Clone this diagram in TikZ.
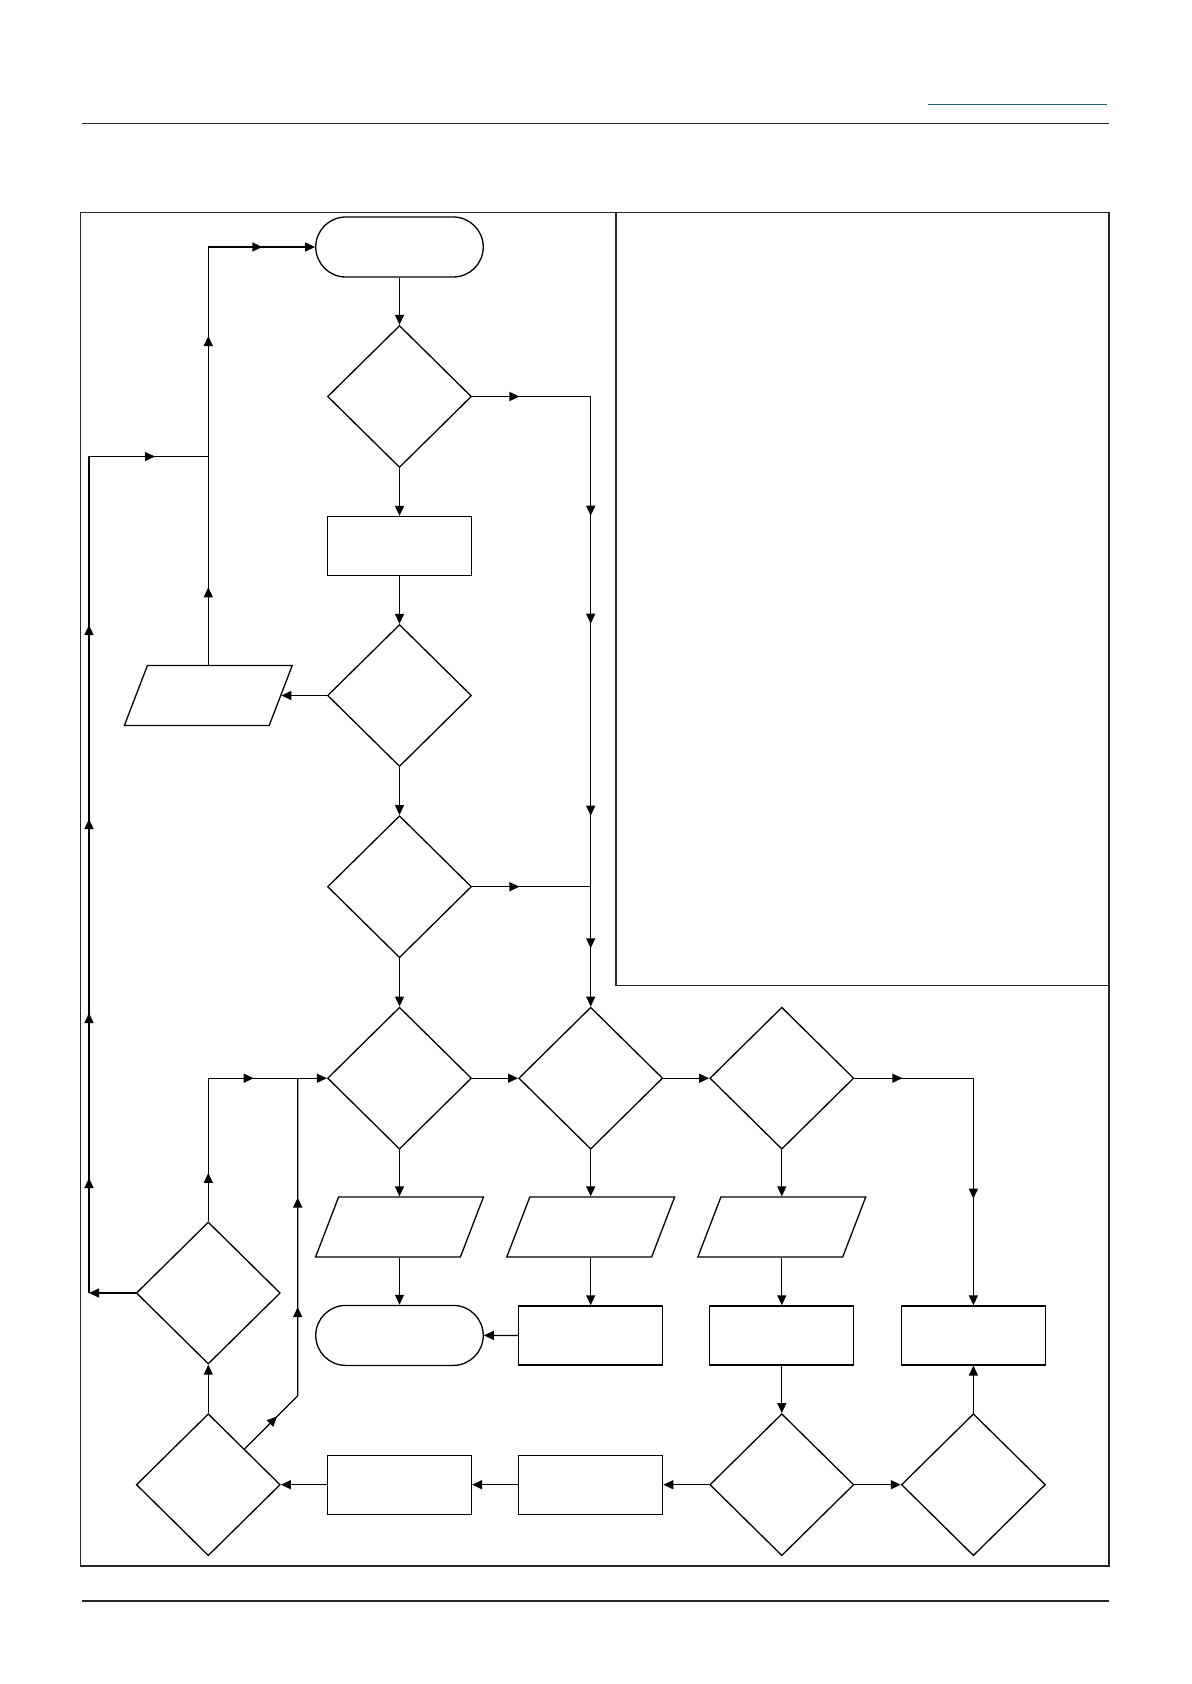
\documentclass[tikz,border=0pt]{standalone}
\usepackage{tikz}
\usetikzlibrary{shapes.geometric, shapes.misc, arrows.meta, decorations.markings}
\definecolor{headteal}{RGB}{28, 98, 112}
\definecolor{framegray}{RGB}{38, 38, 38}
\tikzset{
    chartbox/.style={draw, line width=0.65pt, inner sep=0pt},
    termbox/.style={chartbox, rounded rectangle, minimum width=83.75pt, minimum height=30pt},
    decbox/.style={chartbox, diamond, minimum width=72pt, minimum height=71pt},
    procbox/.style={chartbox, rectangle, minimum width=72pt, minimum height=29.5pt},
    iobox/.style={chartbox, trapezium, inner xsep=30.45pt, inner ysep=15pt,
        trapezium left angle=69, trapezium right angle=111},
    flowline/.style={line width=0.65pt},
    flowarrow/.style={flowline, -{Triangle[length=5pt, width=4.5pt]}},
    midarrow/.style={postaction={decorate, decoration={markings,
        mark=at position #1 with {\arrow{Triangle[length=5pt, width=4.5pt]}}}}},
    pagerule/.style={line width=0.9pt, draw=framegray},
}
\begin{document}
\begin{tikzpicture}[x=0.5pt, y=-0.5pt]
    \useasboundingbox (0,0) rectangle (1191,1684);

    % Page rules
    \draw[line width=0.75pt, draw=headteal] (928,104.5) -- (1107,104.5);
    \draw[pagerule] (82,123.5) -- (1109,123.5);
    \draw[line width=0.75pt, draw=framegray] (82,1601) -- (1109,1601);

    % Frame and side box
    \draw[pagerule] (80.5,212.6) rectangle (1109,1566);
    \draw[pagerule] (616,212.6) rectangle (1109,985.5);

    % Main column
    \node[termbox] (start) at (399.5,247) {};
    \node[decbox] (d1) at (399.5,396.5) {};
    \node[procbox] (proc1) at (399.5,546) {};
    \node[decbox] (d2) at (399.5,695.5) {};
    \node[decbox] (d3) at (399.5,886.7) {};
    \node[iobox] (io0) at (208.3,695.5) {};

    % Middle row
    \node[decbox] (d4) at (399.5,1078.2) {};
    \node[decbox] (d5) at (590.7,1078.2) {};
    \node[decbox] (d6) at (781.8,1078.2) {};
    \node[iobox] (io1) at (399.5,1227) {};
    \node[iobox] (io2) at (590.7,1227) {};
    \node[iobox] (io3) at (781.8,1227) {};

    % Lower rows
    \node[termbox] (stop) at (399.5,1335.4) {};
    \node[procbox] (proc2) at (590.7,1335.4) {};
    \node[procbox] (proc3) at (781.8,1335.4) {};
    \node[procbox] (proc4) at (973.4,1335.4) {};
    \node[decbox] (d10) at (208.3,1293) {};
    \node[decbox] (d7) at (208.3,1484.7) {};
    \node[procbox] (proc5) at (399.5,1484.7) {};
    \node[procbox] (proc6) at (590.7,1484.7) {};
    \node[decbox] (d8) at (781.8,1484.7) {};
    \node[decbox] (d9) at (973.4,1484.7) {};

    % Bends
    \coordinate (outer) at (89,456.5);
    \coordinate (kink) at (297.7,1395.7);

    % Connections
    \draw[flowarrow] (start) -- (d1);
    \draw[flowarrow] (d1) -- (proc1);
    \draw[flowarrow] (proc1) -- (d2);
    \draw[flowarrow] (d2) -- (d3);
    \draw[flowarrow] (d3) -- (d4);
    \draw[flowarrow, midarrow=23.65pt, midarrow=118.85pt, midarrow=172.85pt,
        midarrow=268.85pt, midarrow=335.15pt] (d1.east) -| (d5.north);
    \draw[flowline, midarrow=23.65pt] (d3.east) -- (d3.east -| d5.north);
    \draw[flowarrow] (d2) -- (io0);
    \draw[flowarrow, midarrow=38.75pt, midarrow=164.4pt, midarrow=235.95pt]
        (io0.north) |- (start.west);
    \draw[flowarrow] (d10.west) -- (d10.west -| outer);
    \draw[flowline, midarrow=57.5pt, midarrow=140pt, midarrow=237pt, midarrow=334pt,
        midarrow=451.25pt] (d10.west -| outer) -- (outer) -- (outer -| io0.north);
    \draw[flowarrow, midarrow=24.25pt, midarrow=94.25pt] (d10.north) |- (d4.west);
    \draw[flowline, midarrow=22.9pt, midarrow=81.85pt, midarrow=136.65pt]
        (d7.north east) -- (kink) -- (kink |- d4.west);
    \draw[flowarrow] (d7) -- (d10);
    \draw[flowarrow] (d4) -- (io1);
    \draw[flowarrow] (io1) -- (stop);
    \draw[flowarrow] (d4) -- (d5);
    \draw[flowarrow] (d5) -- (d6);
    \draw[flowarrow] (d5) -- (io2);
    \draw[flowarrow] (io2) -- (proc2);
    \draw[flowarrow] (proc2) -- (stop);
    \draw[flowarrow] (d6) -- (io3);
    \draw[flowarrow] (io3) -- (proc3);
    \draw[flowarrow] (proc3) -- (d8);
    \draw[flowarrow, midarrow=23.95pt, midarrow=119.7pt] (d6.east) -| (proc4.north);
    \draw[flowarrow] (d8) -- (proc6);
    \draw[flowarrow] (proc6) -- (proc5);
    \draw[flowarrow] (proc5) -- (d7);
    \draw[flowarrow] (d8) -- (d9);
    \draw[flowarrow] (d9) -- (proc4);
\end{tikzpicture}
\end{document}
